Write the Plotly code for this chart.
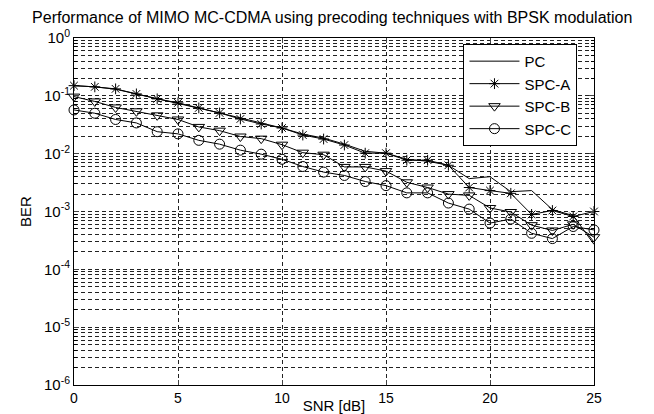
import plotly.graph_objects as go

snr = list(range(26))

# BER values
ber_pc = [0.150, 0.143, 0.130, 0.108, 0.0887, 0.0755, 0.0618, 0.0506, 0.0415, 0.0340,
          0.0278, 0.0218, 0.0186, 0.0146, 0.0110, 0.0102, 0.0080, 0.0074, 0.0063, 0.0037,
          0.0040, 0.0022, 0.0023, 0.00108, 0.00085, 0.00027]
ber_spc_a = [0.150, 0.143, 0.132, 0.108, 0.0887, 0.0755, 0.0618, 0.0506, 0.0398, 0.0326,
             0.0278, 0.0210, 0.0179, 0.0141, 0.0102, 0.0102, 0.0077, 0.0077, 0.0063, 0.0026,
             0.0023, 0.00206, 0.00089, 0.00104, 0.00082, 0.00100]
ber_spc_b = [0.097, 0.080, 0.063, 0.054, 0.046, 0.039, 0.029, 0.025, 0.0198, 0.0182,
             0.0143, 0.0104, 0.0096, 0.0059, 0.0059, 0.0050, 0.0032, 0.0026, 0.0020, 0.0019,
             0.00115, 0.00098, 0.00058, 0.00047, 0.00060, 0.00036]
ber_spc_c = [0.057, 0.050, 0.039, 0.034, 0.024, 0.022, 0.017, 0.0146, 0.0115, 0.0098,
             0.0080, 0.0060, 0.0048, 0.0042, 0.0033, 0.0028, 0.0021, 0.0021, 0.00140, 0.00110,
             0.00063, 0.00074, 0.00042, 0.00034, 0.00055, 0.00048]

x_ticks = [0, 5, 10, 15, 20, 25]
y_tickvals = [1e-6, 1e-5, 1e-4, 1e-3, 1e-2, 1e-1, 1]
y_ticktext = ["10<sup>-6</sup>", "10<sup>-5</sup>", "10<sup>-4</sup>", "10<sup>-3</sup>",
              "10<sup>-2</sup>", "10<sup>-1</sup>", "10<sup>0</sup>"]
y_minor = [m * 10.0 ** e for e in range(-6, 0) for m in range(2, 10)]

series = [
    ("PC", ber_pc, None, 0),
    ("SPC-A", ber_spc_a, "asterisk-open", 9),
    ("SPC-B", ber_spc_b, "triangle-down-open", 10),
    ("SPC-C", ber_spc_c, "circle-open", 10),
]

fig = go.Figure()
for name, vals, sym, size in series:
    if sym is None:
        fig.add_trace(go.Scatter(x=snr, y=vals, name=name, mode="lines",
                                 line=dict(color="black", width=1), cliponaxis=False))
    else:
        fig.add_trace(go.Scatter(x=snr, y=vals, name=name, mode="lines+markers",
                                 line=dict(color="black", width=1),
                                 marker=dict(symbol=sym, size=size, color="black",
                                             line=dict(color="black", width=1)),
                                 cliponaxis=False))

grid_color = "#222222"
dash = "4px,3px"
fig.update_layout(
    width=654, height=414,
    margin=dict(l=74, r=60, t=38, b=29, autoexpand=False),
    paper_bgcolor="white", plot_bgcolor="white",
    font=dict(family="Liberation Sans, Arial, sans-serif", size=14, color="black"),
    title=dict(text="Performance of MIMO MC-CDMA using precoding techniques with BPSK modulation",
               x=0.508, xanchor="center", y=1 - 17 / 414, yanchor="middle", yref="container",
               font=dict(size=16, color="black")),
    showlegend=True,
    legend=dict(x=0.749, y=0.983, xanchor="left", yanchor="top",
                bgcolor="white", bordercolor="black", borderwidth=1,
                font=dict(size=15, color="black"), itemwidth=50, tracegroupgap=0),
    xaxis=dict(range=[0, 25], tickvals=x_ticks, ticks="inside", ticklen=5,
               showline=True, linecolor="black", linewidth=1, mirror="ticks",
               showgrid=True, gridcolor=grid_color, griddash=dash, gridwidth=1,
               zeroline=False, automargin=False, tickfont=dict(size=14),
               title=dict(text="SNR [dB]", standoff=0, font=dict(size=15))),
    yaxis=dict(type="log", range=[-6, 0], tickvals=y_tickvals, ticktext=y_ticktext,
               ticks="inside", ticklen=5, tickfont=dict(size=15),
               showline=True, linecolor="black", linewidth=1, mirror="ticks",
               showgrid=True, gridcolor=grid_color, griddash=dash, gridwidth=1,
               zeroline=False, automargin=False,
               minor=dict(tickvals=y_minor, ticks="inside", ticklen=3, tickcolor="black",
                          showgrid=True, gridcolor=grid_color, griddash=dash, gridwidth=1),
               title=dict(text="BER", standoff=8, font=dict(size=15))),
)

fig.write_html("out.html", config={"displayModeBar": False},
               post_script="document.body.style.margin='0';")
